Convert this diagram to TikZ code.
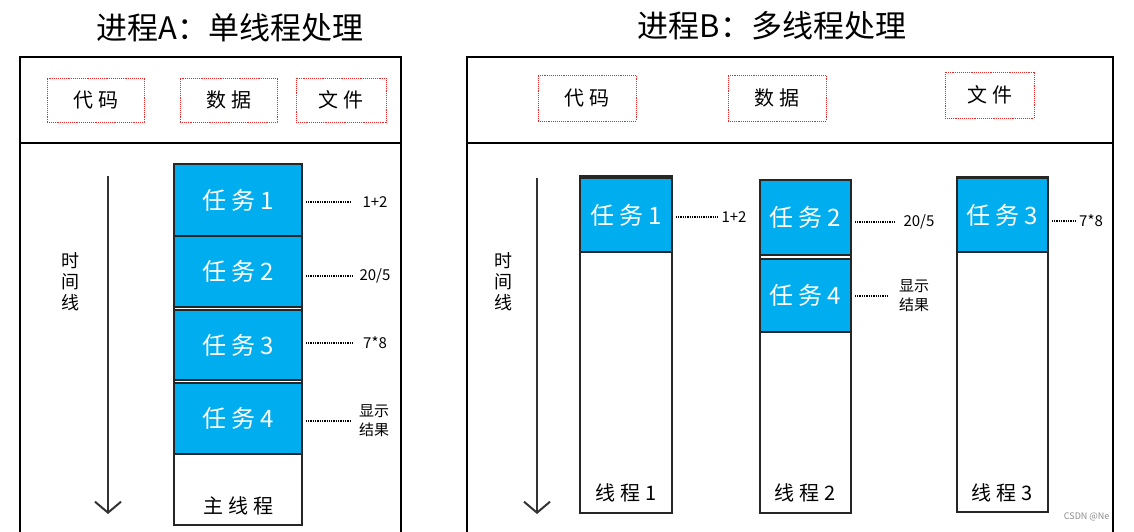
\documentclass[tikz,border=0pt]{standalone}
\usepackage{fontspec}
\setmainfont{Noto Sans CJK SC}
\usetikzlibrary{arrows.meta}
\definecolor{taskblue}{RGB}{0,174,239}
\definecolor{dotred}{RGB}{235,40,40}
\tikzset{
  frame/.style={draw=black, line width=2pt},
  resbox/.style={draw=dotred, densely dotted, line width=0.9pt, inner sep=0pt, font=\fontsize{20}{22}\selectfont},
  colbox/.style={draw=black!85, line width=2pt, fill=white, inner sep=0pt},
  taskbox/.style={draw=black!85, line width=1.6pt, fill=taskblue, text=white, inner sep=0pt, font=\fontsize{24}{26}\selectfont},
  lbl/.style={font=\fontsize{15}{19}\selectfont, align=center, inner sep=1pt},
  conn/.style={densely dotted, line width=1.3pt, shorten <=3pt},
  timearrow/.style={line width=2.2pt, draw=black!80, -{Straight Barb[length=11pt,width=26pt,line width=2pt]}},
  titletext/.style={font=\fontsize{31}{33}\selectfont},
  vtext/.style={font=\fontsize{18}{20}\selectfont, align=center},
  threadlbl/.style={font=\fontsize{20}{22}\selectfont}
}
\newcommand{\gapc}{\hspace{5pt}}
\begin{document}
\begin{tikzpicture}[x=1pt,y=-1pt]
\useasboundingbox (0,0) rectangle (1134,531);
% ---------- Process A ----------
\node[titletext] (titleA) at (230,28) {进程A：单线程处理};
\draw[frame] (20,540) -- (20,57) -- (401,57) -- (401,540);
\draw[frame] (20,143) -- (401,143);
\node[resbox, minimum width=97, minimum height=44] (codeA) at (95.5,100) {代\gapc 码};
\node[resbox, minimum width=97, minimum height=44] (dataA) at (228.5,100) {数\gapc 据};
\node[resbox, minimum width=90, minimum height=44] (fileA) at (341,100) {文\gapc 件};
\coordinate (arrAs) at (108,176);
\coordinate (arrAe) at (108,514);
\draw[timearrow] (arrAs) -- (arrAe);
\node[vtext] (timeA) at (70,282) {时\\[1pt]间\\[1pt]线};
\node[colbox, minimum width=128, minimum height=361] (mainA) at (238,344.5) {};
\node[threadlbl, anchor=center] (mainAl) at (238,506) {主\gapc 线\gapc 程};
\node[taskbox, minimum width=128, minimum height=72] (a1) at (238,200) {任\gapc 务\gapc 1};
\node[taskbox, minimum width=128, minimum height=71] (a2) at (238,271.5) {任\gapc 务\gapc 2};
\node[taskbox, minimum width=128, minimum height=70] (a3) at (238,345) {任\gapc 务\gapc 3};
\node[taskbox, minimum width=128, minimum height=71] (a4) at (238,418.5) {任\gapc 务\gapc 4};
\node[lbl] (la1) at (375,202) {1+2};
\node[lbl] (la2) at (375,276) {20/5};
\node[lbl] (la3) at (375,343) {7*8};
\node[lbl] (la4) at (374,421) {显示\\结果};
\draw[conn, shorten >=10pt] (a1.east |- la1) -- (la1.west);
\draw[conn, shorten >=5pt] (a2.east |- la2) -- (la2.west);
\draw[conn, shorten >=10pt] (a3.east |- la3) -- (la3.west);
\draw[conn, shorten >=8pt] (a4.east |- la4) -- (la4.west);
% ---------- Process B ----------
\node[titletext] (titleB) at (772,26) {进程B：多线程处理};
\draw[frame] (467,540) -- (467,57) -- (1113,57) -- (1113,540);
\draw[frame] (467,143) -- (1113,143);
\node[resbox, minimum width=98, minimum height=46] (codeB) at (587,98) {代\gapc 码};
\node[resbox, minimum width=98, minimum height=46] (dataB) at (777,98) {数\gapc 据};
\node[resbox, minimum width=89, minimum height=46] (fileB) at (989.5,95) {文\gapc 件};
\coordinate (arrBs) at (537,178);
\coordinate (arrBe) at (537,514);
\draw[timearrow] (arrBs) -- (arrBe);
\node[vtext] (timeB) at (503,282) {时\\[1pt]间\\[1pt]线};
% thread 1
\node[colbox, minimum width=92, minimum height=337] (th1) at (626,344.5) {};
\node[threadlbl] (th1l) at (626,493) {线\gapc 程\gapc 1};
\node[taskbox, minimum width=92, minimum height=74] (b1) at (626,215) {任\gapc 务\gapc 1};
\node[lbl] (lb1) at (734,217) {1+2};
\draw[conn, shorten >=2pt] (b1.east |- lb1) -- (lb1.west);
% thread 2
\node[colbox, minimum width=91, minimum height=333] (th2) at (805.5,346.5) {};
\node[threadlbl] (th2l) at (805.5,493) {线\gapc 程\gapc 2};
\node[taskbox, minimum width=91, minimum height=75] (b2) at (805.5,217.5) {任\gapc 务\gapc 2};
\node[taskbox, minimum width=91, minimum height=73] (b4) at (805.5,295.5) {任\gapc 务\gapc 4};
\node[lbl] (lb2) at (919,222) {20/5};
\node[lbl] (lb4) at (914,296) {显示\\结果};
\draw[conn, shorten >=8pt] (b2.east |- lb2) -- (lb2.west);
\draw[conn, shorten >=10pt] (b4.east |- lb4) -- (lb4.west);
% thread 3
\node[colbox, minimum width=91, minimum height=335] (th3) at (1002.5,344.5) {};
\node[threadlbl] (th3l) at (1002.5,493) {线\gapc 程\gapc 3};
\node[taskbox, minimum width=91, minimum height=74] (b3) at (1002.5,215) {任\gapc 务\gapc 3};
\node[lbl] (lb3) at (1091,221) {7*8};
\draw[conn, shorten >=1pt] (b3.east |- lb3) -- (lb3.west);
% watermark
\node[font=\fontsize{9}{10}\selectfont, text=black!45, anchor=east] (wm) at (1113,517) {CSDN @Ne};
\end{tikzpicture}
\end{document}
